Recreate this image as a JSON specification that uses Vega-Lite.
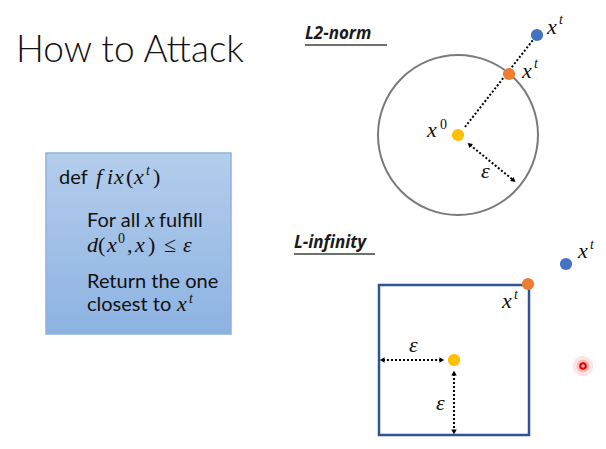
{
  "$schema": "https://vega.github.io/schema/vega-lite/v6.json",
  "width": 606,
  "height": 449,
  "autosize": {"type": "fit", "contains": "padding"},
  "padding": 0,
  "background": "white",
  "config": {"view": {"stroke": null}},
  "datasets": {
    "box": [{"x": 46, "x2": 231, "y": 153, "y2": 334}],
    "square": [{"x": 379, "x2": 529, "y": 285, "y2": 435}],
    "ball": [{"x": 458, "y": 135}],
    "dotted": [
      {"x": 465, "y": 127, "x2": 533, "y2": 40},
      {"x": 470, "y": 145, "x2": 512, "y2": 179},
      {"x": 383, "y": 360, "x2": 441, "y2": 360},
      {"x": 454, "y": 374, "x2": 454, "y2": 431}
    ],
    "underline": [
      {"x": 305, "y": 45, "x2": 387, "y2": 45},
      {"x": 294, "y": 254, "x2": 375, "y2": 254}
    ],
    "heads": [
      {"x": 470, "y": 145, "angle": 310},
      {"x": 513, "y": 180, "angle": 130},
      {"x": 383, "y": 360, "angle": 270},
      {"x": 441, "y": 360, "angle": 90},
      {"x": 454, "y": 374, "angle": 0},
      {"x": 454, "y": 431, "angle": 180}
    ],
    "dots": [
      {"x": 458, "y": 135, "kind": "origin"},
      {"x": 454, "y": 360, "kind": "origin"},
      {"x": 509, "y": 74, "kind": "projected"},
      {"x": 528, "y": 284, "kind": "projected"},
      {"x": 537, "y": 35, "kind": "target"},
      {"x": 566, "y": 264, "kind": "target"}
    ],
    "laser": [{"x": 583, "y": 366}],
    "title": [{"x": 16, "y": 62, "t": "How to Attack"}],
    "headings": [
      {"x": 305, "y": 39, "t": "L2-norm"},
      {"x": 294, "y": 248, "t": "L-infinity"}
    ],
    "sans": [
      {"x": 59, "y": 184, "t": "def"},
      {"x": 87, "y": 227, "t": "For all"},
      {"x": 159, "y": 227, "t": "fulfill"},
      {"x": 87, "y": 288, "t": "Return the one"},
      {"x": 87, "y": 311, "t": "closest to"}
    ],
    "mathIt": [
      {"x": 96, "y": 184, "t": "f"},
      {"x": 107, "y": 184, "t": "i"},
      {"x": 114, "y": 184, "t": "x"},
      {"x": 134, "y": 184, "t": "x"},
      {"x": 145, "y": 227, "t": "x"},
      {"x": 87, "y": 252, "t": "d"},
      {"x": 107, "y": 252, "t": "x"},
      {"x": 135, "y": 252, "t": "x"},
      {"x": 183, "y": 252, "t": "ε"},
      {"x": 177, "y": 311, "t": "x"},
      {"x": 547, "y": 34, "t": "x"},
      {"x": 522, "y": 78, "t": "x"},
      {"x": 427, "y": 137, "t": "x"},
      {"x": 578, "y": 258, "t": "x"},
      {"x": 502, "y": 308, "t": "x"},
      {"x": 481, "y": 178, "t": "ε"},
      {"x": 409, "y": 352, "t": "ε"},
      {"x": 436, "y": 410, "t": "ε"}
    ],
    "mathUp": [
      {"x": 126, "y": 184, "t": "("},
      {"x": 153, "y": 184, "t": ")"},
      {"x": 98, "y": 252, "t": "("},
      {"x": 127, "y": 252, "t": ","},
      {"x": 148, "y": 252, "t": ")"},
      {"x": 164, "y": 252, "t": "≤"}
    ],
    "supIt": [
      {"x": 146, "y": 175, "t": "t"},
      {"x": 189, "y": 303, "t": "t"},
      {"x": 559, "y": 24, "t": "t"},
      {"x": 534, "y": 68, "t": "t"},
      {"x": 590, "y": 249, "t": "t"},
      {"x": 514, "y": 299, "t": "t"}
    ],
    "supUp": [
      {"x": 118, "y": 243, "t": "0"},
      {"x": 440, "y": 129, "t": "0"}
    ]
  },
  "encoding": {
    "x": {"field": "x", "type": "quantitative", "scale": {"domain": [0, 606], "nice": false, "zero": false}, "axis": null},
    "y": {"field": "y", "type": "quantitative", "scale": {"domain": [0, 449], "nice": false, "zero": false, "reverse": true}, "axis": null}
  },
  "layer": [
    {
      "data": {"name": "box"},
      "mark": {"type": "rect", "fill": {"gradient": "linear", "x1": 0, "y1": 0, "x2": 0, "y2": 1, "stops": [{"offset": 0, "color": "#b4cdec"}, {"offset": 1, "color": "#8db3e2"}]}, "stroke": "#8eb1dc", "strokeWidth": 1.5},
      "encoding": {"x2": {"field": "x2"}, "y2": {"field": "y2"}}
    },
    {
      "data": {"name": "square"},
      "mark": {"type": "rect", "fill": "white", "fillOpacity": 0, "stroke": "#2f5597", "strokeWidth": 2.5},
      "encoding": {"x2": {"field": "x2"}, "y2": {"field": "y2"}}
    },
    {
      "data": {"name": "ball"},
      "mark": {"type": "point", "shape": "circle", "size": 25600, "filled": false, "stroke": "#7a7a7a", "strokeWidth": 2, "opacity": 1}
    },
    {
      "data": {"name": "dotted"},
      "mark": {"type": "rule", "color": "black", "strokeWidth": 2, "strokeDash": [2, 2]},
      "encoding": {"x2": {"field": "x2"}, "y2": {"field": "y2"}}
    },
    {
      "data": {"name": "underline"},
      "mark": {"type": "rule", "color": "#404040", "strokeWidth": 1.5},
      "encoding": {"x2": {"field": "x2"}, "y2": {"field": "y2"}}
    },
    {
      "data": {"name": "heads"},
      "mark": {"type": "point", "shape": "triangle", "filled": true, "color": "black", "size": 30, "opacity": 1},
      "encoding": {"angle": {"field": "angle", "type": "quantitative", "scale": null}}
    },
    {
      "data": {"name": "laser"},
      "mark": {"type": "point", "shape": "circle", "filled": true, "color": "#ff6b6b", "size": 420, "opacity": 0.18}
    },
    {
      "data": {"name": "laser"},
      "mark": {"type": "point", "shape": "circle", "filled": true, "color": "#ff5050", "size": 160, "opacity": 0.3}
    },
    {
      "data": {"name": "laser"},
      "mark": {"type": "point", "shape": "circle", "filled": false, "stroke": "#e00000", "strokeWidth": 2, "size": 30, "opacity": 1}
    },
    {
      "data": {"name": "dots"},
      "mark": {"type": "point", "shape": "circle", "filled": true, "size": 150, "opacity": 1},
      "encoding": {"color": {"field": "kind", "type": "nominal", "scale": {"domain": ["origin", "projected", "target"], "range": ["#ffc000", "#ed7d31", "#4472c4"]}, "legend": null}}
    },
    {
      "data": {"name": "title"},
      "mark": {"type": "text", "align": "left", "baseline": "alphabetic", "font": "Lato", "fontWeight": 300, "fontSize": 37, "color": "#111111"},
      "encoding": {"text": {"field": "t"}}
    },
    {
      "data": {"name": "headings"},
      "mark": {"type": "text", "align": "left", "baseline": "alphabetic", "font": "Open Sans", "fontWeight": "bold", "fontStyle": "italic", "fontSize": 17, "color": "#1a1a1a"},
      "encoding": {"text": {"field": "t"}}
    },
    {
      "data": {"name": "sans"},
      "mark": {"type": "text", "align": "left", "baseline": "alphabetic", "font": "Lato", "fontSize": 20, "color": "#111111"},
      "encoding": {"text": {"field": "t"}}
    },
    {
      "data": {"name": "mathIt"},
      "mark": {"type": "text", "align": "left", "baseline": "alphabetic", "font": "Liberation Serif", "fontStyle": "italic", "fontSize": 22, "color": "#111111"},
      "encoding": {"text": {"field": "t"}}
    },
    {
      "data": {"name": "mathUp"},
      "mark": {"type": "text", "align": "left", "baseline": "alphabetic", "font": "Liberation Serif", "fontSize": 22, "color": "#111111"},
      "encoding": {"text": {"field": "t"}}
    },
    {
      "data": {"name": "supIt"},
      "mark": {"type": "text", "align": "left", "baseline": "alphabetic", "font": "Liberation Serif", "fontStyle": "italic", "fontSize": 14, "color": "#111111"},
      "encoding": {"text": {"field": "t"}}
    },
    {
      "data": {"name": "supUp"},
      "mark": {"type": "text", "align": "left", "baseline": "alphabetic", "font": "Liberation Serif", "fontSize": 14, "color": "#111111"},
      "encoding": {"text": {"field": "t"}}
    }
  ]
}
